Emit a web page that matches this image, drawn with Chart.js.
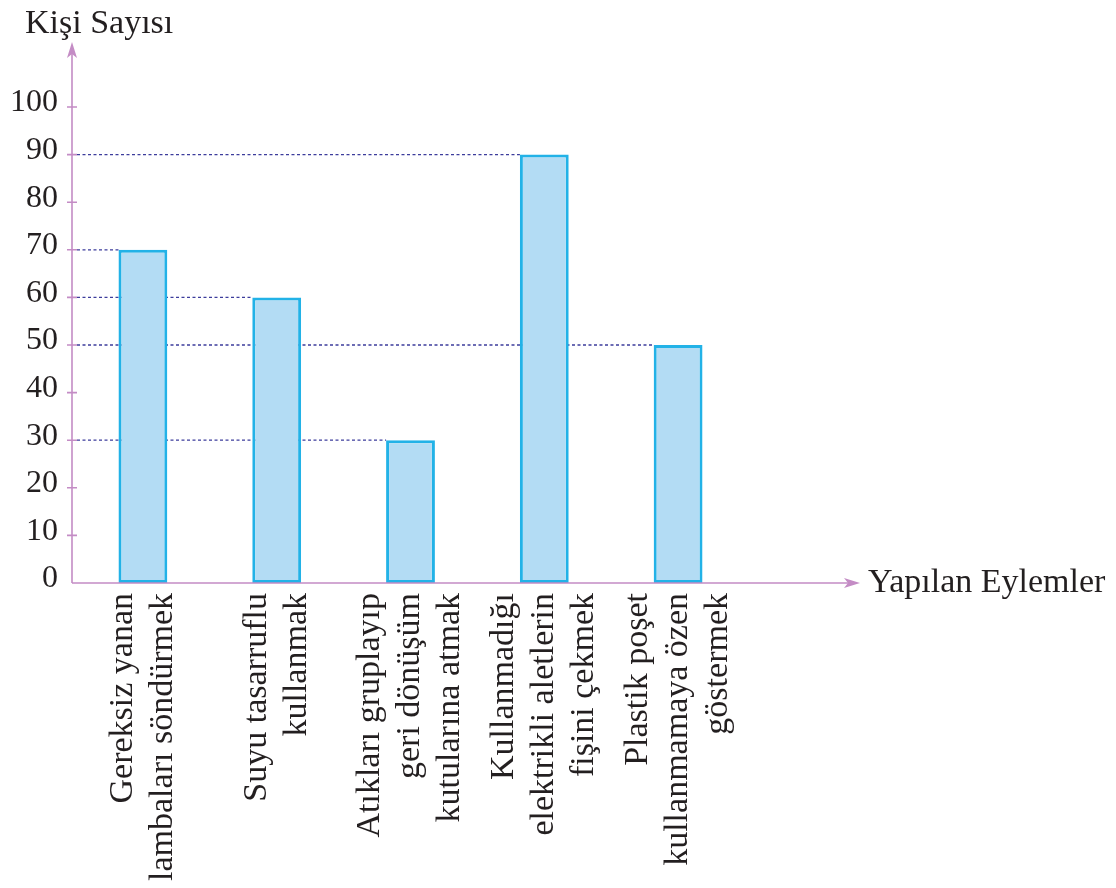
<!DOCTYPE html>
<html>
<head>
<meta charset="utf-8">
<script src="https://cdn.jsdelivr.net/npm/chart.js"></script>
<style>
  body { margin: 0; background: #fff; }
  #wrap { width: 1116px; height: 888px; }
</style>
</head>
<body>
<div id="wrap"><canvas id="myChart"></canvas></div>
<script>
// categories (one array per label, one entry per line)
var categories = [
    ["Gereksiz yanan", "lambaları söndürmek"],
    ["Suyu tasarruflu", "kullanmak"],
    ["Atıkları gruplayıp", "geri dönüşüm", "kutularına atmak"],
    ["Kullanmadığı", "elektrikli aletlerin", "fişini çekmek"],
    ["Plastik poşet", "kullanmamaya özen", "göstermek"]
];
var values = [70, 60, 30, 90, 50];
var yTicks = [0, 10, 20, 30, 40, 50, 60, 70, 80, 90, 100];
var yTitle = "Kişi Sayısı";
var xTitle = "Yapılan Eylemler";

var axisColor = '#c48cc5';
var textColor = '#231f20';
var fontName = '"Liberation Serif", "Times New Roman", serif';

// axes with arrows, dotted guide lines and the rotated labels
var decor = {
    id: 'decor',
    beforeDatasetsDraw: function (chart) {
        var ctx = chart.ctx;
        var axisX = chart.chartArea.left - 4;
        var meta = chart.getDatasetMeta(0);
        ctx.save();
        ctx.strokeStyle = '#3c3c9c';
        ctx.lineWidth = 1.3;
        ctx.setLineDash([3, 2.5]);
        meta.data.forEach(function (bar) {
            ctx.beginPath();
            ctx.moveTo(axisX + 5, bar.y);
            ctx.lineTo(bar.x - bar.width / 2, bar.y);
            ctx.stroke();
        });
        ctx.restore();
    },
    afterDatasetsDraw: function (chart) {
        var ctx = chart.ctx, xs = chart.scales.x, ys = chart.scales.y, area = chart.chartArea;
        var axisX = area.left - 4;
        var axisY = ys.getPixelForValue(0);
        var topY = ys.getPixelForValue(100) - 65;
        var rightX = area.right + 115;

        ctx.save();
        ctx.strokeStyle = axisColor;
        ctx.fillStyle = axisColor;
        ctx.lineWidth = 1.6;
        ctx.beginPath();
        ctx.moveTo(axisX, axisY);
        ctx.lineTo(axisX, topY + 10);
        ctx.moveTo(axisX, axisY);
        ctx.lineTo(rightX - 10, axisY);
        yTicks.forEach(function (v) {
            if (v === 0) return;
            var py = ys.getPixelForValue(v);
            ctx.moveTo(axisX - 5, py);
            ctx.lineTo(axisX + 5, py);
        });
        ctx.stroke();

        ctx.beginPath();
        ctx.moveTo(axisX, topY);
        ctx.lineTo(axisX - 5, topY + 16);
        ctx.lineTo(axisX, topY + 12);
        ctx.lineTo(axisX + 5, topY + 16);
        ctx.closePath();
        ctx.fill();

        ctx.beginPath();
        ctx.moveTo(rightX, axisY);
        ctx.lineTo(rightX - 16, axisY - 5);
        ctx.lineTo(rightX - 12, axisY);
        ctx.lineTo(rightX - 16, axisY + 5);
        ctx.closePath();
        ctx.fill();

        // category labels, rotated, lines centred on the bar
        ctx.fillStyle = textColor;
        ctx.font = '34px ' + fontName;
        ctx.textAlign = 'right';
        ctx.textBaseline = 'middle';
        var lineH = 40;
        chart.data.labels.forEach(function (lines, i) {
            var cx = xs.getPixelForValue(i);
            lines.forEach(function (line, j) {
                var lx = cx + (j - (lines.length - 1) / 2) * lineH;
                ctx.save();
                ctx.translate(lx, axisY + 10);
                ctx.rotate(-Math.PI / 2);
                ctx.fillText(line, 0, 0);
                ctx.restore();
            });
        });

        // axis titles
        ctx.textAlign = 'left';
        ctx.textBaseline = 'alphabetic';
        ctx.fillText(yTitle, axisX - 47, topY - 9);
        ctx.fillText(xTitle, rightX + 8, axisY + 9);
        ctx.restore();
    }
};

var ctx = document.getElementById('myChart').getContext('2d');
var chart = new Chart(ctx, {
    type: 'bar',
    data: {
        labels: categories,
        datasets: [{
            data: values,
            backgroundColor: '#b3dcf4',
            borderColor: '#22b2e7',
            borderWidth: 3,
            borderSkipped: false,
            categoryPercentage: 1,
            barPercentage: 0.365
        }]
    },
    options: {
        responsive: true,
        maintainAspectRatio: false,
        animation: false,
        layout: { padding: { top: 107, right: 371, bottom: 305, left: 0 } },
        plugins: { legend: { display: false }, tooltip: { enabled: false } },
        scales: {
            x: { display: false },
            y: {
                min: 0,
                max: 100,
                afterFit: function (s) { s.width = 76; },
                afterBuildTicks: function (s) { s.ticks = yTicks.map(function (v) { return { value: v }; }); },
                grid: { display: false, drawTicks: false },
                border: { display: false },
                ticks: {
                    padding: 18,
                    labelOffset: -4,
                    color: textColor,
                    font: { family: fontName, size: 32 }
                }
            }
        }
    },
    plugins: [decor]
});
</script>
</body>
</html>
